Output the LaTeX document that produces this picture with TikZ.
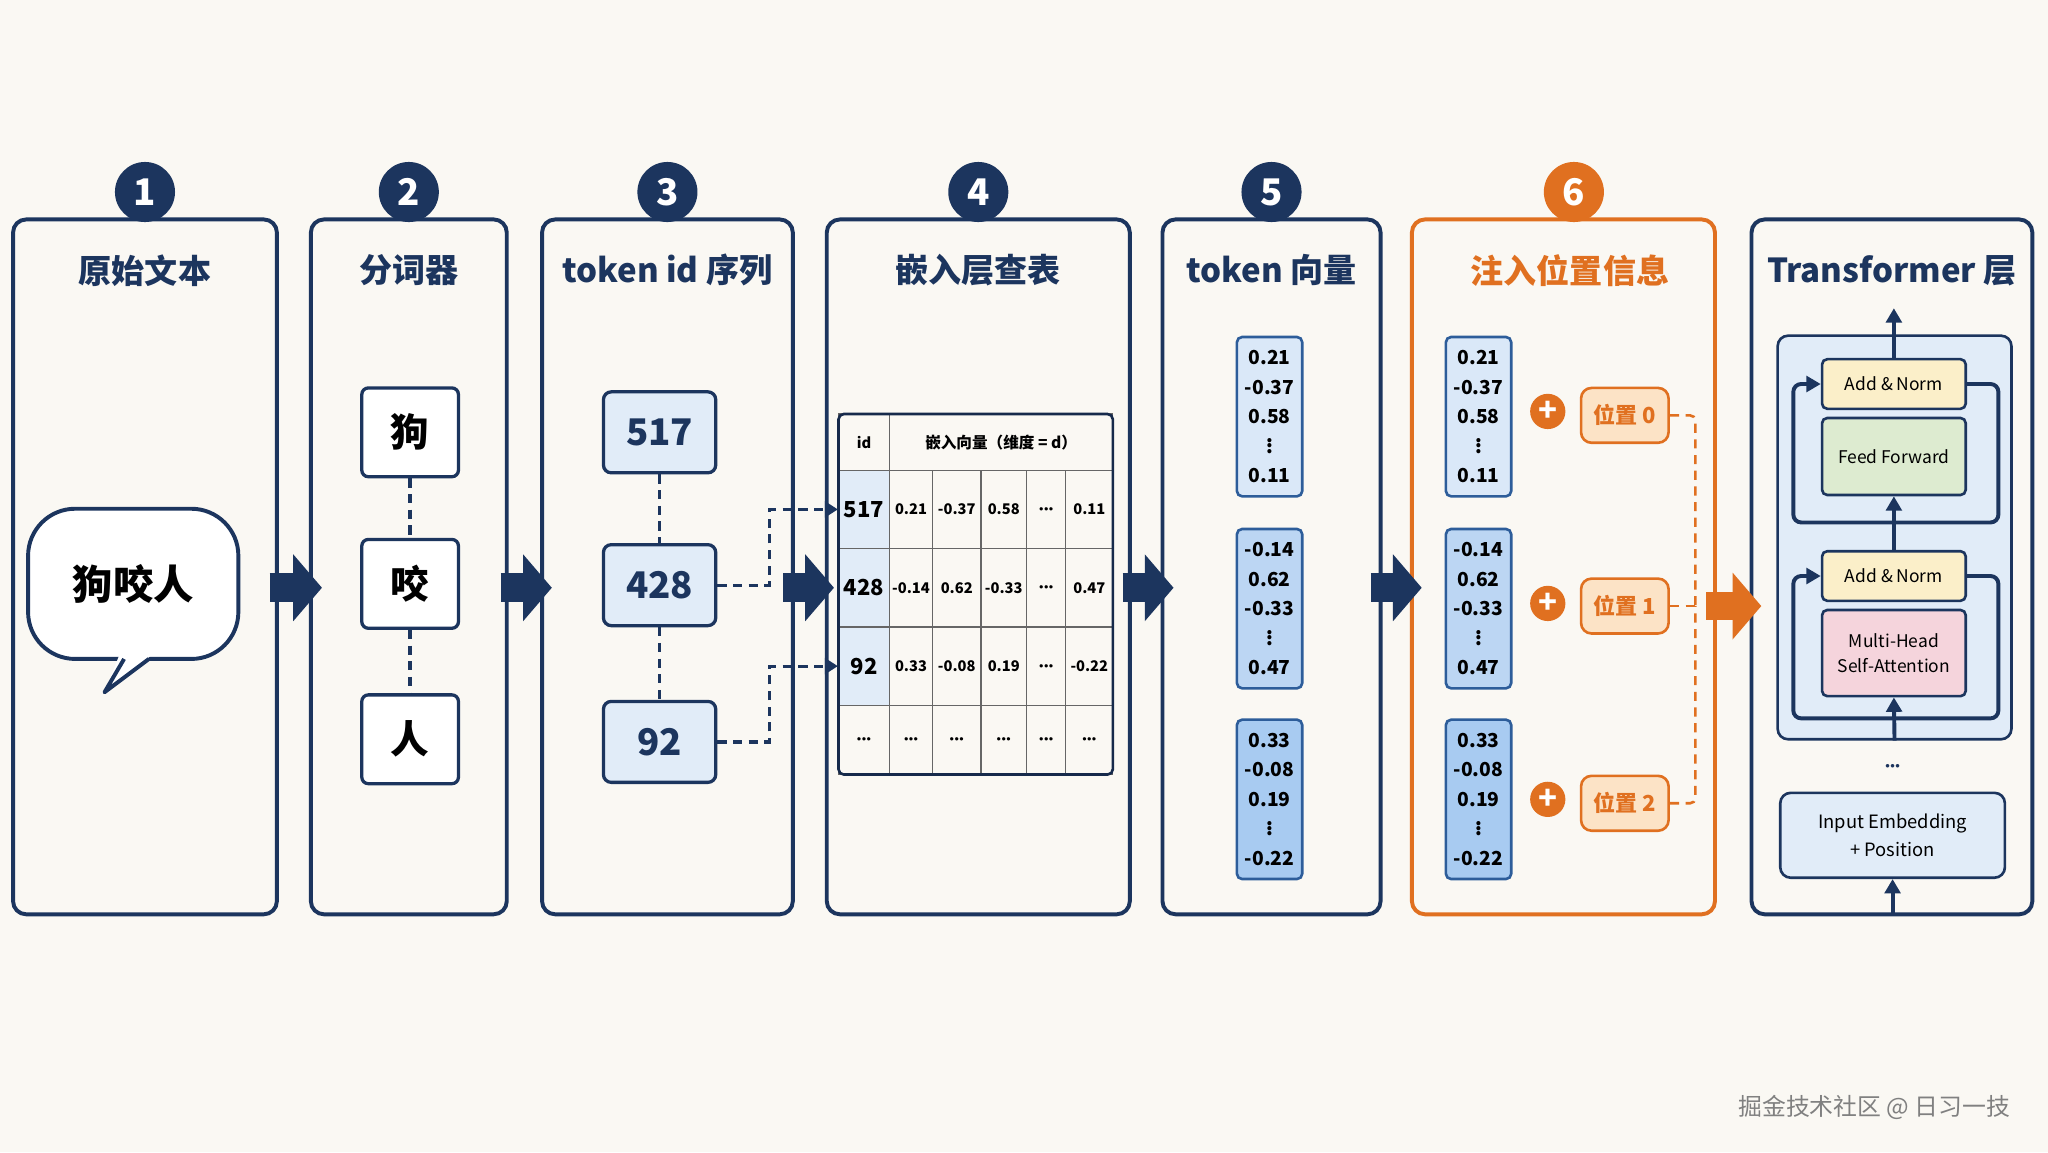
\documentclass[tikz,border=0pt]{standalone}
\usepackage{fontspec}
\setmainfont{Noto Sans CJK SC}
\usetikzlibrary{arrows.meta,positioning,calc}
\def\pu{0.05cm}
\newcommand{\celldots}{\scalebox{0.55}{$\bullet\!\bullet\!\bullet$}}
\definecolor{bg}{HTML}{FAF8F3}
\definecolor{navy}{HTML}{1C355E}
\definecolor{vborder}{HTML}{2D5D9A}
\definecolor{orng}{HTML}{E07020}
\definecolor{lblue}{HTML}{E1ECF8}
\definecolor{vec1}{HTML}{DAE8F8}
\definecolor{vec2}{HTML}{BCD6F3}
\definecolor{vec3}{HTML}{A8CBF1}
\definecolor{posfill}{HTML}{FCE3C6}
\definecolor{addfill}{HTML}{FBEFC9}
\definecolor{fffill}{HTML}{DDEBD0}
\definecolor{mhafill}{HTML}{F5D4DC}
\tikzset{
        % Panels of the pipeline
        panel/.style={draw=navy, line width=3*\pu, rounded corners=0.5cm, fill=bg, minimum height=532*\pu},
        badge/.style={circle, fill=navy, text=white, minimum size=46*\pu, inner sep=0pt, font=\fontsize{40pt}{44pt}\selectfont\bfseries},
        title/.style={text=navy, font=\fontsize{36pt}{40pt}\selectfont\bfseries},
        % Boxes inside the panels
        tokbox/.style={draw=navy, line width=2.5*\pu, rounded corners=0.25cm, fill=white, minimum width=74*\pu, minimum height=68*\pu, font=\fontsize{42pt}{46pt}\selectfont\bfseries},
        idbox/.style={draw=navy, line width=2.5*\pu, rounded corners=0.3cm, fill=lblue, text=navy, minimum width=86*\pu, minimum height=62*\pu, font=\fontsize{40pt}{44pt}\selectfont\bfseries},
        cell/.style={draw=gray!80!black, line width=1*\pu, minimum height=60*\pu, inner sep=0pt, font=\fontsize{16pt}{18pt}\selectfont\bfseries},
        idcell/.style={fill=lblue, font=\fontsize{24pt}{26pt}\selectfont\bfseries},
        vecbox/.style={draw=vborder, line width=2*\pu, rounded corners=0.2cm, minimum width=50*\pu, minimum height=122*\pu, align=center, inner sep=0pt, font=\fontsize{21pt}{32pt}\selectfont\bfseries},
        plus/.style={circle, fill=orng, text=white, minimum size=27*\pu, inner sep=0pt, font=\fontsize{34pt}{34pt}\selectfont\bfseries},
        posbox/.style={draw=orng, line width=2*\pu, rounded corners=0.4cm, fill=posfill, text=orng, minimum width=67*\pu, minimum height=42*\pu, font=\fontsize{24pt}{26pt}\selectfont\bfseries},
        tbox/.style={draw=navy, line width=2*\pu, rounded corners=0.2cm, minimum width=110*\pu, align=center, inner sep=0pt, font=\fontsize{19pt}{28pt}\selectfont},
        % Connectors
        bigarrow/.style={navy, line width=22*\pu, -{Triangle[length=1.1cm, width=2.5cm]}},
        tokdash/.style={navy, line width=2.5*\pu, dash pattern=on 0.35cm off 0.25cm},
        iddash/.style={navy, line width=2.5*\pu, dash pattern=on 0.35cm off 0.25cm, -{Triangle[length=0.5cm, width=0.6cm]}},
        odash/.style={orng, line width=2*\pu, dash pattern=on 0.35cm off 0.25cm, rounded corners=0.2cm},
        tarrow/.style={navy, line width=3*\pu, -{Triangle[length=0.55cm, width=0.6cm]}}
}
\begin{document}
\begin{tikzpicture}[x=\pu, y=-\pu]
    \fill[bg] (0,0) rectangle (1568,882);
    \useasboundingbox (0,0) rectangle (1568,882);

    % panels, badges and titles
    \foreach \n/\xc/\w/\t in {1/111/202/原始文本, 2/313/150/分词器, 3/511/192/token id 序列, 4/749/232/嵌入层查表, 5/973.5/167/token 向量, 7/1448.5/215/Transformer 层}{
        \node[panel, minimum width=\w*\pu] (p\n) at (\xc,434) {};
        \node[title] (h\n) at (\xc,207) {\t};
    }
    \node[panel, draw=orng, minimum width=232*\pu] (p6) at (1197,434) {};
    \node[title, text=orng] (h6) at (1202,207) {注入位置信息};
    \foreach \n/\xc in {1/111, 2/313, 3/511, 4/749, 5/973.5}
        \node[badge] (b\n) at (\xc,147) {\n};
    \node[badge, fill=orng] (b6) at (1205,147) {6};

    % 1: raw text
    \node[draw=navy, line width=3*\pu, rounded corners=1.8cm, fill=white, minimum width=161*\pu, minimum height=115*\pu, font=\fontsize{44pt}{48pt}\selectfont\bfseries] (bub) at (102,447) {狗咬人};
    \fill[white] (92,500) -- (80,530) -- (118,500) -- cycle;
    \draw[navy, line width=3*\pu, line join=round] (95,504.5) -- (80,530) -- (114,504.5);

    % 2: tokenizer
    \node[tokbox] (w1) at (314,331) {狗};
    \node[tokbox] (w2) at (314,447) {咬};
    \node[tokbox] (w3) at (314,566) {人};
    \draw[tokdash] (w1) -- (w2);
    \draw[tokdash] (w2) -- (w3);

    % 3: token ids
    \node[idbox] (i1) at (505,331) {517};
    \node[idbox] (i2) at (505,448) {428};
    \node[idbox] (i3) at (505,568) {92};
    \draw[tokdash] (i1) -- (i2);
    \draw[tokdash] (i2) -- (i3);

    % 4: lookup table
    \node[cell, minimum width=39*\pu, minimum height=43*\pu] (th0) at (661.5,338.5) {id};
    \node[cell, minimum width=171*\pu, minimum height=43*\pu, font=\fontsize{17pt}{18pt}\selectfont\bfseries] (th1) at (766.5,338.5) {嵌入向量（维度 = d）};
    \foreach \yc/\id/\a/\b/\c/\e [count=\r] in {390/517/0.21/-0.37/0.58/0.11, 450/428/-0.14/0.62/-0.33/0.47, 510/92/0.33/-0.08/0.19/-0.22}{
        \node[cell, idcell, minimum width=39*\pu] (t\r) at (661.5,\yc) {\id};
        \node[cell, minimum width=33*\pu] at (697.5,\yc) {\a};
        \node[cell, minimum width=37*\pu] at (732.5,\yc) {\b};
        \node[cell, minimum width=35*\pu] at (768.5,\yc) {\c};
        \node[cell, minimum width=30*\pu] at (801,\yc) {\celldots};
        \node[cell, minimum width=36*\pu] at (834,\yc) {\e};
    }
    \foreach \xc/\w in {661.5/39, 697.5/33, 732.5/37, 768.5/35, 801/30, 834/36}
        \node[cell, minimum width=\w*\pu, minimum height=53*\pu] at (\xc,566.5) {\celldots};
    \draw[navy!80!black, line width=2*\pu, rounded corners=0.2cm] (642,317) rectangle (852,593);
    \draw[iddash] (i2.east) -- ++(40,0) |- (t1.west);
    \draw[iddash] (i3.east) -- ++(40,0) |- (t3.west);

    % 5: token vectors
    \node[vecbox, fill=vec1] (v1) at (972,319) {0.21\\-0.37\\0.58\\$\vdots$\\0.11};
    \node[vecbox, fill=vec2] (v2) at (972,466) {-0.14\\0.62\\-0.33\\$\vdots$\\0.47};
    \node[vecbox, fill=vec3] (v3) at (972,612) {0.33\\-0.08\\0.19\\$\vdots$\\-0.22};

    % 6: add positions
    \node[vecbox, fill=vec1] (u1) at (1132,319) {0.21\\-0.37\\0.58\\$\vdots$\\0.11};
    \node[vecbox, fill=vec2] (u2) at (1132,466) {-0.14\\0.62\\-0.33\\$\vdots$\\0.47};
    \node[vecbox, fill=vec3] (u3) at (1132,612) {0.33\\-0.08\\0.19\\$\vdots$\\-0.22};
    \foreach \k/\yc/\yp in {0/315/318, 1/462/464, 2/612/615}{
        \node[plus] (add\k) at (1185,\yc) {+};
        \node[posbox] (pos\k) at (1244,\yp) {位置 \k};
    }
    \coordinate (merge) at (1298,464);
    \draw[odash] (pos0.east) -| (merge);
    \draw[odash] (pos2.east) -| (merge);
    \draw[odash] (pos1.east) -- (merge);

    % 7: transformer layer
    \node[draw=navy, line width=2*\pu, rounded corners=0.4cm, fill=lblue, minimum width=179*\pu, minimum height=309*\pu] (tblock) at (1450.5,411.5) {};
    \node[tbox, fill=addfill, minimum height=38*\pu] (an1) at (1450,294) {Add \& Norm};
    \node[tbox, fill=fffill, minimum height=59*\pu] (ff) at (1450,349.5) {Feed Forward};
    \node[tbox, fill=addfill, minimum height=38*\pu] (an2) at (1450,441) {Add \& Norm};
    \node[tbox, fill=mhafill, minimum height=66*\pu] (mha) at (1450,500) {Multi-Head\\Self-Attention};
    \node[text=navy, scale=1.8] (dots) at (1449,587) {\celldots};
    \node[tbox, fill=lblue, minimum width=172*\pu, minimum height=65*\pu, rounded corners=0.4cm, font=\fontsize{20pt}{30pt}\selectfont] (emb) at (1449,639.5) {Input Embedding\\+ Position};
    \coordinate (out) at (1450,236);
    \coordinate (inp) at (1449,700);
    \coordinate (r1) at (1450,400);
    \coordinate (r2) at (1450,550);
    \draw[tarrow] (an1.north) -- (out);
    \draw[tarrow] (an2.north) -- (ff.south);
    \draw[tarrow] (tblock.south) -- (mha.south);
    \draw[tarrow] (inp) -- (emb.south);
    \draw[tarrow, rounded corners=0.3cm] (r1) -| ([xshift=-21*\pu]an1.west) -- (an1.west);
    \draw[navy, line width=3*\pu, rounded corners=0.3cm] (an1.east) -- ++(24,0) |- (r1);
    \draw[tarrow, rounded corners=0.3cm] (r2) -| ([xshift=-21*\pu]an2.west) -- (an2.west);
    \draw[navy, line width=3*\pu, rounded corners=0.3cm] (an2.east) -- ++(24,0) |- (r2);

    % big arrows between panels
    \draw[bigarrow] ([xshift=-7*\pu, yshift=-16*\pu]p1.east) -- ([xshift=10*\pu, yshift=-16*\pu]p2.west);
    \draw[bigarrow] ([xshift=-6*\pu, yshift=-16*\pu]p2.east) -- ([xshift=9*\pu, yshift=-16*\pu]p3.west);
    \draw[bigarrow] ([xshift=-9*\pu, yshift=-16*\pu]p3.east) -- ([xshift=7*\pu, yshift=-16*\pu]p4.west);
    \draw[bigarrow] ([xshift=-7*\pu, yshift=-16*\pu]p4.east) -- ([xshift=10*\pu, yshift=-16*\pu]p5.west);
    \draw[bigarrow] ([xshift=-9*\pu, yshift=-16*\pu]p5.east) -- ([xshift=9*\pu, yshift=-16*\pu]p6.west);
    \draw[bigarrow, orng] ([xshift=-8*\pu, yshift=-30*\pu]p6.east) -- ([xshift=9*\pu, yshift=-30*\pu]p7.west);

    \node[text=gray, font=\fontsize{26pt}{28pt}\selectfont] (mark) at (1435,848) {掘金技术社区 @ 日习一技};
\end{tikzpicture}
\end{document}
